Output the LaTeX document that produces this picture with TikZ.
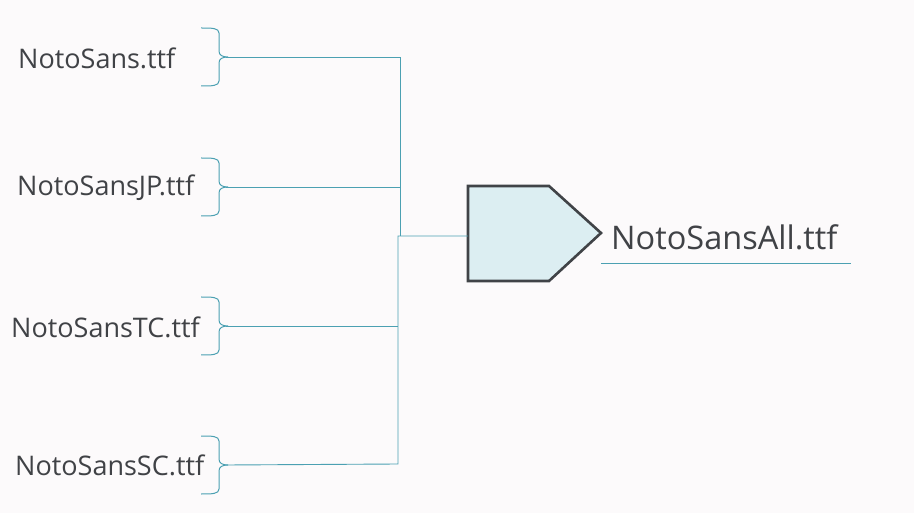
\documentclass[tikz,border=0pt]{standalone}
\usepackage{fontspec}
\setmainfont{Open Sans}[Ligatures=NoCommon]
\definecolor{bgc}{RGB}{252,250,251}
\definecolor{teal}{RGB}{75,160,178}
\definecolor{txt}{RGB}{64,66,70}
\definecolor{shp}{RGB}{64,67,71}
\definecolor{shpfill}{RGB}{220,238,242}
\begin{document}
\begin{tikzpicture}[x=1pt,y=-1pt,
  lbl/.style={anchor=west,inner sep=0pt,text=txt,font=\fontsize{27}{31}\selectfont},
  conn/.style={draw=teal,line width=0.9pt},
  bracepath/.style={draw=teal,line width=1pt}]
\fill[bgc] (0,0) rectangle (914,513);
\useasboundingbox (0,0) rectangle (914,513);
% labels
\node[lbl] (l1) at (18,58) {NotoSans.ttf};
\node[lbl] (l2) at (17,188) {NotoSansJP.ttf};
\node[lbl] (l3) at (11,327) {NotoSansTC.ttf};
\node[lbl] (l4) at (15,465) {NotoSansSC.ttf};
% braces and tips
\foreach \i/\y in {1/57,2/187,3/326,4/465}{
  \draw[bracepath] (201,\y-29) .. controls (212,\y-29) and (219,\y-29) .. (219,\y-24)
    -- (219,\y-6) .. controls (219,\y-2) and (222,\y) .. (228,\y)
    .. controls (222,\y) and (219,\y+2) .. (219,\y+6)
    -- (219,\y+24) .. controls (219,\y+29) and (212,\y+29) .. (201,\y+29);
  \coordinate (t\i) at (226,\y);
}
\coordinate (j1) at (400,57);
\coordinate (j2) at (400,187);
\coordinate (j3) at (398,326);
\coordinate (j4) at (398,464);
% pentagon
\coordinate (pin) at (468,236);
\draw[shp,fill=shpfill,line width=2.6pt,line join=miter]
  (468,186) -- (549,186) -- (601,233) -- (549,281) -- (468,281) -- cycle;
% connectors
\draw[conn] (t1) -- (j1) -- (400,236);
\draw[conn] (t2) -- (j2);
\draw[conn] (t3) -- (j3);
\draw[conn] (t4) -- (j4) -- (398,236) -- (pin);
% output label
\node[anchor=west,inner sep=0pt,text=txt,font=\fontsize{32.5}{37}\selectfont] (out) at (611,237) {NotoSansAll.ttf};
\draw[teal,line width=0.9pt] (601,263) -- (851,263);
\end{tikzpicture}
\end{document}
